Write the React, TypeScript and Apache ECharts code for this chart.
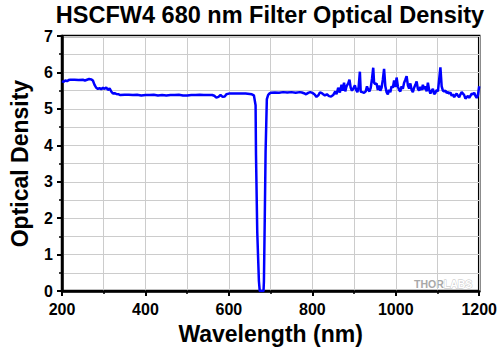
import React, { useEffect, useRef } from "react";
import * as echarts from "echarts";

const TITLE = "HSCFW4 680 nm Filter Optical Density";
const X_NAME = "Wavelength (nm)";
const Y_NAME = "Optical Density";

const wavelength = [
  200, 204, 208, 212, 216, 220, 230, 240, 250, 255, 260, 265, 270, 274, 278, 282, 286, 290, 294, 298,
  302, 306, 310, 314, 318, 322, 326, 330, 336, 340, 350, 360, 370, 380, 390, 400, 410, 420, 430, 440,
  450, 460, 470, 480, 490, 500, 510, 520, 530, 540, 550, 560, 565, 570, 575, 580, 585, 590, 594, 600,
  610, 620, 630, 640, 650, 655, 660, 664, 665, 668, 672, 674, 683, 684, 686, 688, 691, 694, 697, 700,
  710, 720, 730, 740, 750, 760, 770, 775, 780, 785, 790, 795, 800, 805, 810, 815, 818, 822, 826, 830,
  835, 840, 845, 850, 855, 858, 862, 866, 870, 873, 876, 879, 882, 886, 889, 892, 895, 898, 902, 905,
  908, 911, 914, 916, 920, 924, 928, 931, 934, 937, 940, 943, 946, 948, 951, 954, 957, 960, 963, 966,
  969, 972, 975, 978, 981, 984, 987, 990, 993, 996, 999, 1002, 1005, 1008, 1011, 1014, 1017, 1020, 1023, 1026,
  1029, 1032, 1035, 1038, 1041, 1044, 1047, 1050, 1053, 1056, 1059, 1062, 1065, 1068, 1071, 1074, 1077, 1080, 1083, 1086,
  1089, 1092, 1095, 1098, 1101, 1104, 1107, 1110, 1113, 1116, 1119, 1122, 1125, 1128, 1131, 1134, 1137, 1140, 1143, 1146,
  1149, 1152, 1155, 1158, 1161, 1164, 1167, 1170, 1173, 1176, 1179, 1182, 1185, 1188, 1191, 1194, 1197, 1200,
];

const opticalDensity = [
  5.76, 5.74, 5.78, 5.76, 5.79, 5.8, 5.8, 5.79, 5.8, 5.78, 5.8, 5.82, 5.81, 5.78, 5.66, 5.58, 5.55, 5.57, 5.54, 5.58,
  5.55, 5.59, 5.52, 5.56, 5.48, 5.42, 5.43, 5.41, 5.4, 5.38, 5.39, 5.39, 5.38, 5.39, 5.37, 5.38, 5.38, 5.39, 5.37, 5.38,
  5.37, 5.38, 5.38, 5.39, 5.37, 5.37, 5.38, 5.38, 5.39, 5.38, 5.38, 5.38, 5.36, 5.31, 5.33, 5.38, 5.33, 5.34, 5.4, 5.42,
  5.42, 5.42, 5.42, 5.42, 5.41, 5.4, 5.37, 5.1, 3.74, 1.62, 0.27, 0.0, 0.0, 0.27, 1.98, 3.84, 5.27, 5.38, 5.42, 5.44,
  5.45, 5.44, 5.46, 5.45, 5.46, 5.44, 5.46, 5.45, 5.43, 5.4, 5.44, 5.46, 5.44, 5.4, 5.33, 5.38, 5.45, 5.44, 5.4, 5.37,
  5.4, 5.35, 5.34, 5.38, 5.48, 5.4, 5.58, 5.45, 5.66, 5.5, 5.72, 5.48, 5.62, 5.7, 5.8, 5.58, 5.5, 5.55, 5.65, 5.52,
  5.46, 5.6, 6.02, 5.47, 5.46, 5.44, 5.48, 5.62, 5.52, 5.48, 5.58, 5.82, 6.13, 5.72, 5.68, 5.7, 5.52, 5.64, 5.5, 5.58,
  5.8, 6.1, 5.62, 5.46, 5.4, 5.52, 5.46, 5.62, 5.58, 5.78, 5.6, 5.86, 5.62, 5.52, 5.48, 5.62, 5.55, 5.72, 5.8, 5.9,
  5.65, 5.56, 5.7, 5.52, 5.46, 5.58, 5.66, 5.75, 5.55, 5.5, 5.6, 5.52, 5.66, 5.54, 5.62, 5.48, 5.72, 5.52, 5.42, 5.5,
  5.55, 5.4, 5.44, 5.52, 5.48, 5.8, 6.14, 5.62, 5.5, 5.48, 5.5, 5.44, 5.46, 5.42, 5.45, 5.36, 5.4, 5.32, 5.38, 5.42,
  5.36, 5.32, 5.4, 5.46, 5.42, 5.38, 5.28, 5.32, 5.36, 5.3, 5.36, 5.42, 5.4, 5.44, 5.36, 5.3, 5.38, 5.62,
];

const X_MIN = 200;
const X_MAX = 1200;
const X_INTERVAL = 200;
const Y_MIN = 0;
const Y_MAX = 7;
const Y_INTERVAL = 1;

const FONT = "'Liberation Sans', Arial, sans-serif";

export default function App() {
  const ref = useRef<HTMLDivElement>(null);

  useEffect(() => {
    if (!ref.current) return;
    const chart = echarts.init(ref.current, null, { renderer: "svg" });
    const data = wavelength.map((w, i) => [w, opticalDensity[i]]);
    const gridColor = "#cccccc";
    chart.setOption({
      animation: false,
      backgroundColor: "#ffffff",
      grid: {
        left: 62,
        right: 20,
        top: 36,
        bottom: 55,
        show: true,
        borderColor: "#000",
        borderWidth: 2.5,
        containLabel: false,
      },
      graphic: [
        {
          type: "text",
          x: 270,
          y: 15,
          style: {
            text: TITLE,
            font: `bold 23.5px ${FONT}`,
            fill: "#000",
            align: "center",
            verticalAlign: "middle",
          },
        },
        {
          type: "text",
          left: 414,
          top: 278,
          style: {
            text: "{a|THOR}{b|LABS}",
            rich: {
              a: { fontFamily: FONT, fontWeight: "bold", fontSize: 10.5, fill: "#a8a8a8" },
              b: { fontFamily: FONT, fontWeight: "bold", fontSize: 10.5, fill: "#ffffff", stroke: "#c0c0c0", lineWidth: 0.8 },
            },
          },
        },
      ],
      xAxis: {
        type: "value",
        min: X_MIN,
        max: X_MAX,
        interval: X_INTERVAL,
        name: X_NAME,
        nameLocation: "middle",
        nameGap: 28,
        nameTextStyle: { fontFamily: FONT, fontWeight: "bold", fontSize: 23, color: "#000" },
        axisLine: { show: true, onZero: false, lineStyle: { color: "#000", width: 2.5 } },
        axisTick: { show: true, length: 5, lineStyle: { color: "#000", width: 2 } },
        minorTick: { show: true, splitNumber: 2, length: 3, lineStyle: { color: "#000", width: 1.5 } },
        axisLabel: {
          fontFamily: FONT,
          fontWeight: "bold",
          fontSize: 16,
          color: "#000",
          margin: 10,
          formatter: (v: number) => String(v),
        },
        splitLine: { show: true, lineStyle: { color: gridColor, width: 1 } },
        minorSplitLine: { show: true, lineStyle: { color: gridColor, width: 1 } },
      },
      yAxis: {
        type: "value",
        min: Y_MIN,
        max: Y_MAX,
        interval: Y_INTERVAL,
        name: Y_NAME,
        nameLocation: "middle",
        nameGap: 31,
        nameTextStyle: { fontFamily: FONT, fontWeight: "bold", fontSize: 23, color: "#000" },
        axisLine: { show: true, onZero: false, lineStyle: { color: "#000", width: 2.5 } },
        axisTick: { show: true, length: 5, lineStyle: { color: "#000", width: 2 } },
        minorTick: { show: true, splitNumber: 2, length: 3, lineStyle: { color: "#000", width: 1.5 } },
        axisLabel: {
          fontFamily: FONT,
          fontWeight: "bold",
          fontSize: 16,
          color: "#000",
          margin: 9,
          formatter: (v: number) => String(v),
        },
        splitLine: { show: true, lineStyle: { color: gridColor, width: 1 } },
        minorSplitLine: { show: true, lineStyle: { color: gridColor, width: 1 } },
      },
      series: [
        {
          type: "line",
          data,
          showSymbol: false,
          symbol: "none",
          clip: true,
          lineStyle: { color: "#0000ff", width: 2.5 },
        },
      ],
    });
    return () => chart.dispose();
  }, []);

  return (
    <div
      ref={ref}
      style={{ position: "fixed", left: 0, top: 0, width: 500, height: 350 }}
    />
  );
}
